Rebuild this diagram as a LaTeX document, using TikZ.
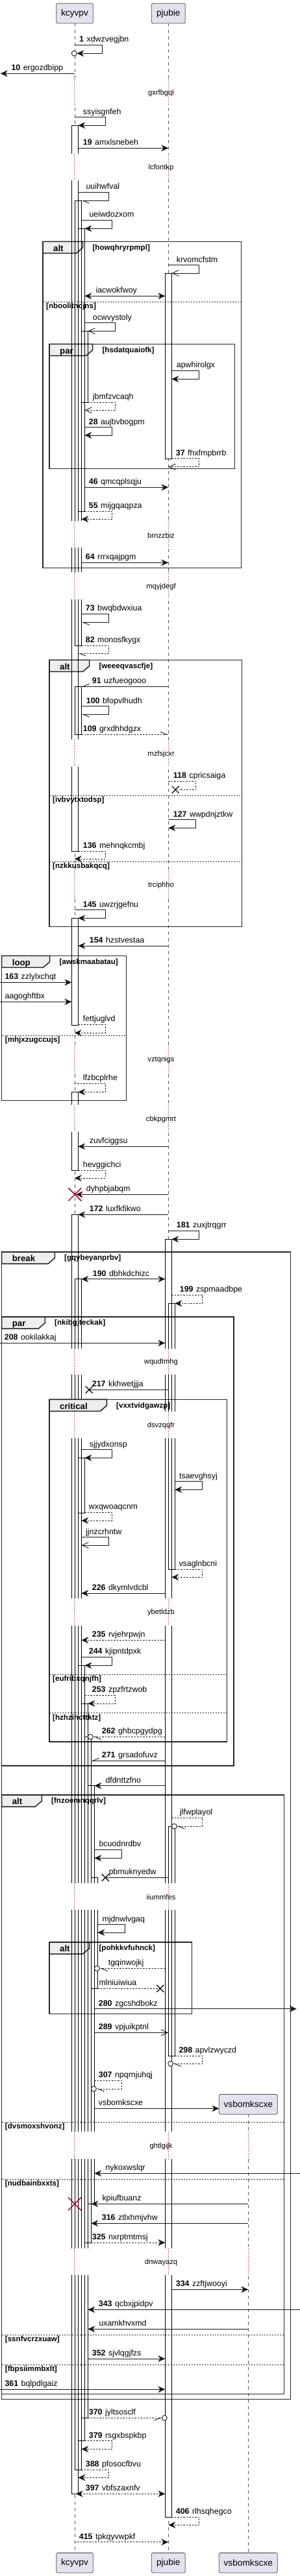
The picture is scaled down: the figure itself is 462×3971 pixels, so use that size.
\documentclass[tikz,border=0pt]{standalone}
\usepackage{fontspec}
\setmainfont{Liberation Sans}
\usetikzlibrary{arrows.meta}

\definecolor{partfill}{HTML}{E2E2F0}
\definecolor{tabfill}{HTML}{EEEEEE}
\definecolor{delayred}{HTML}{A80036}

\tikzset{
  part/.style={draw=black!70, fill=partfill, rounded corners=2.5pt, line width=0.8pt,
    minimum height=30.7pt, inner sep=0pt, font=\fontsize{13.7}{16}\selectfont},
  lifeline/.style={draw=black!65, line width=0.6pt, dash pattern=on 5pt off 5pt},
  actline/.style={draw=black, line width=0.9pt},
  msg/.style={draw=black!90, line width=0.9pt},
  rmsg/.style={msg, dash pattern=on 2.5pt off 2pt},
  fhead/.style={-{Stealth[length=11pt,width=10pt,inset=3.5pt]}},
  bhead/.style={{Stealth[length=11pt,width=10pt,inset=3.5pt]}-{Stealth[length=11pt,width=10pt,inset=3.5pt]}},
  ohead/.style={-{Straight Barb[length=10pt,width=9pt]}},
  halfl/.style={-{Straight Barb[length=10pt,width=8pt,left]}},
  halfr/.style={-{Straight Barb[length=10pt,width=8pt,right]}},
  msgtxt/.style={inner sep=0pt, anchor=base west, font=\fontsize{12.4}{14}\selectfont},
  fragline/.style={draw=black!85, line width=1.5pt},
  sepline/.style={draw=black!85, line width=0.9pt, dash pattern=on 2pt off 2pt},
  kindtxt/.style={inner sep=0pt, anchor=base west, font=\bfseries\fontsize{13.2}{15}\selectfont},
  guardtxt/.style={inner sep=0pt, anchor=base west, font=\bfseries\fontsize{11.6}{13}\selectfont},
  delayline/.style={draw=delayred, line width=0.8pt, dash pattern=on 1pt off 2pt},
  delaytxt/.style={inner sep=0pt, font=\fontsize{11.2}{13}\selectfont},
  endcirc/.style={draw=black!90, line width=0.9pt, fill=white},
  lostx/.style={draw=black!90, line width=1.4pt},
  killx/.style={draw=delayred, line width=1.5pt},
}

% message label, number
\newcommand{\seqno}[1]{\textbf{#1}\hspace{4.5pt}}
\newcommand{\lbl}[4]{\node[msgtxt] (#1) at (#2,{#3-4.5}) {#4};}
% fragment tab, box, separator
\newcommand{\fragtab}[5]{%
  \filldraw[fragline, fill=tabfill] (#1,#2) -- (#3,#2) -- (#3,{#2+9.3}) -- ({#3-10},{#2+18}) -- (#1,{#2+18}) -- cycle;
  \node[kindtxt] (#5) at ({#1+16},{#2+14.8}) {#4};}
\newcommand{\fragbox}[8]{%
  \draw[fragline] (#1,#2) rectangle (#3,#4);
  \fragtab{#1}{#2}{#5}{#6}{#8k}
  \node[guardtxt] (#8g) at ({#5+14.7},{#2+12.8}) {#7};}
\newcommand{\fragsep}[5]{%
  \draw[sepline] (#1,#3) -- (#2,#3);
  \node[guardtxt] (#5) at ({#1+5},{#3+10.5}) {#4};}
% delay: y1 y2 texty text name
\newcommand{\delaycut}[5]{%
  \fill[white] (105,#1) rectangle (156,#2);
  \fill[white] (250,#1) rectangle (275,#2);
  \draw[delayline] (114.7,#1) -- (114.7,#2);
  \draw[delayline] (259.3,#1) -- (259.3,#2);
  \node[delaytxt] (#5) at (248,#3) {#4};}
\newcommand{\lostmark}[2]{\draw[lostx] ({#1-5.5},{#2-5.5}) -- ({#1+5.5},{#2+5.5}) ({#1-5.5},{#2+5.5}) -- ({#1+5.5},{#2-5.5});}
\newcommand{\destroyx}[2]{\draw[killx] ({#1-10},{#2-10}) -- ({#1+10},{#2+10}) ({#1-10},{#2+10}) -- ({#1+10},{#2-10});}

% activation bars: left x / top / bottom
\def\barlist{110.3/193.3/1312.3, 110.3/1415.3/1580, 110.3/1683.3/1804.3, 110.3/1872.3/3844.3,
  115.3/309.3/995, 115.3/1058.3/1132.3, 115.3/1971.7/3807,
  120.3/352.3/788, 120.3/2247.3/2332.3, 120.3/2567.3/3762.7,
  125.3/510.3/620, 125.3/2626/3727.3,
  130.3/2677.3/3457, 135.3/2752.7/3397.3, 140.3/2894.3/3065,
  254.3/421/707.3, 254.3/1910.3/3880, 259.3/2009.3/2419, 259.3/2815.3/3169.3}

\begin{document}
\begin{tikzpicture}[x=1pt,y=-1pt]
\useasboundingbox (0,0) rectangle (462,3971);

% participants and lifelines
\node[part, minimum width=56.6pt] (kcT) at (115,20.65) {kcyvpv};
\node[part, minimum width=52pt] (pjT) at (259.3,20.65) {pjubie};
\node[part, minimum width=56.6pt] (kcB) at (115,3950.65) {kcyvpv};
\node[part, minimum width=52pt] (pjB) at (259.3,3950.65) {pjubie};
\node[part, minimum width=90pt] (vsB) at (382.3,3950.65) {vsbomkscxe};
\draw[lifeline] (kcT) -- (kcB);
\draw[lifeline] (pjT) -- (pjB);
\draw[lifeline] (382.3,3259.3) -- (vsB);

% activations (fill)
\foreach \bx/\ya/\yb in \barlist {\fill[white] (\bx,\ya) rectangle ({\bx+10},\yb);}

% fragments
\fragbox{66}{372.3}{371.7}{875.3}{127.7}{alt}{[howqhryrpmpl]}{fa}
\fragsep{66}{371.7}{465.3}{[nboolitncjns]}{fa1}
\fragbox{76}{530.3}{361.7}{722.3}{142.7}{par}{[hsdatquaiofk]}{fb}
\fragbox{76}{1017.3}{372.7}{1428.3}{137.7}{alt}{[weeeqvascfje]}{fc}
\fragsep{76}{372.7}{1226.3}{[ivbvytxtodsp]}{fc1}
\fragsep{76}{372.7}{1328.3}{[nzkkusbakqcq]}{fc2}
\fragbox{2.7}{1473.3}{194.7}{1696.7}{76.7}{loop}{[awskmaabatau]}{fd}
\fragsep{2.7}{194.7}{1596.3}{[mhjxzugccujs]}{fd1}
\fragbox{2.7}{1930}{447.7}{3698.3}{84.3}{break}{[gqybeyanprbv]}{fe}
\fragbox{2.7}{2030}{360}{2722}{69.3}{par}{[nkibgjteckak]}{ff}
\fragbox{76}{2157.3}{349.3}{2685}{164.3}{critical}{[vxxtvidgawzp]}{fg}
\fragsep{76}{349.3}{2581}{[eufribxqnjfh]}{fg1}
\fragsep{76}{349.3}{2640.7}{[hzhzihcttktz]}{fg2}
\fragbox{2.7}{2767}{437.7}{3690.7}{64.3}{alt}{[fnzoemnqqrlv]}{fh}
\fragsep{2.7}{437.7}{3271.3}{[dvsmoxshvonz]}{fh1}
\fragsep{2.7}{437.7}{3359.3}{[nudbainbxxts]}{fh2}
\fragsep{2.7}{437.7}{3599.3}{[ssnfvcrzxuaw]}{fh3}
\fragsep{2.7}{437.7}{3645}{[fbpsiimmbxlt]}{fh4}
\fragbox{76}{2994}{295.7}{3104.7}{137.7}{alt}{[pohkkvfuhnck]}{fi}

% activations (outline)
\foreach \bx/\ya/\yb in \barlist {\draw[actline] (\bx,\ya) rectangle ({\bx+10},\yb);}

% delays
\delaycut{122}{164}{143.3}{gxrfbgql}{d1}
\delaycut{236.7}{278.3}{258.3}{lcfontkp}{d2}
\delaycut{803.3}{844}{825}{brnzzbiz}{d3}
\delaycut{882.3}{924}{904.3}{mqyjdegf}{d4}
\delaycut{1140}{1182}{1162.3}{mzfsjcxr}{d5}
\delaycut{1343}{1386}{1365}{trciphho}{d6}
\delaycut{1612}{1655}{1633.3}{vztqnigs}{d7}
\delaycut{1703.3}{1745}{1725.3}{cbkpgmrt}{d8}
\delaycut{2078.7}{2119.3}{2100}{wqudtmhg}{d9}
\fill[white] (105,2158) rectangle (156,2176);
\delaycut{2176}{2217.3}{2197.3}{dsvzqqfr}{d10}
\fragtab{76}{2157.3}{164.3}{critical}{fgk2}
\delaycut{2464.3}{2506}{2486}{ybetldzb}{d11}
\delaycut{2902.7}{2944}{2924}{iiummfes}{d12}
\delaycut{3286}{3328.3}{3308.3}{ghtlgijk}{d13}
\fill[white] (378,3286) rectangle (387,3328.3);
\draw[delayline] (382.3,3286) -- (382.3,3328.3);
\delaycut{3465.7}{3506.7}{3487.3}{dnwayazq}{d14}
\fill[white] (378,3465.7) rectangle (387,3506.7);
\draw[delayline] (382.3,3465.7) -- (382.3,3506.7);

% created participant
\node[part, minimum width=90pt] (vsT) at (382.3,3243.8) {vsbomkscxe};

% messages
\draw[msg,fhead] (114.7,69.3) -| (157.3,82.3) -- (118.3,82.3);
\draw[endcirc] (114.3,82.3) circle (4);
\lbl{t1}{122}{69.3}{\seqno{1}xdwzvegjbn}
\draw[msg,fhead] (114.7,113.3) -- (0.7,113.3);
\lbl{t10}{17.3}{113.3}{\seqno{10}ergozdbipp}
\draw[msg,fhead] (114.7,180.7) -| (162.3,193.3) -- (120.3,193.3);
\lbl{tssy}{127.7}{180.7}{ssyisgnfeh}
\draw[msg,fhead] (120.3,228.3) -- (259.3,228.3);
\lbl{t19}{127.7}{228.3}{\seqno{19}amxlsnebeh}
\draw[msg,halfl] (120.3,296) -| (167.3,309.3) -- (125.3,309.3);
\lbl{tuui}{132.3}{296}{uuihwfval}
\draw[msg,fhead] (125.3,339.3) -| (172.3,352.3) -- (130.3,352.3);
\lbl{tuei}{137.3}{339.3}{ueiwdozxom}
\draw[msg,ohead] (259.3,408.7) -| (306.3,421) -- (264.3,421);
\lbl{tkrv}{271.7}{408.7}{krvomcfstm}
\draw[msg,bhead] (130.3,456.3) -- (254.3,456.3);
\lbl{tiac}{147.3}{456.3}{iacwokfwoy}
\draw[msg,ohead] (130.3,497.7) -| (177.3,510.3) -- (135.3,510.3);
\lbl{tocw}{142.7}{497.7}{ocwvystoly}
\draw[msg,fhead] (264.3,571.3) -| (306.3,584.3) -- (264.3,584.3);
\lbl{tapw}{271.7}{571.3}{apwhirolgx}
\draw[rmsg,ohead] (135.3,620) -| (177.3,632.3) -- (130.3,632.3);
\lbl{tjbm}{142.7}{620}{jbmfzvcaqh}
\draw[msg,fhead] (130.3,658.7) -| (172.3,671) -- (130.3,671);
\lbl{t28}{136.7}{658.7}{\seqno{28}aujbvbogpm}
\draw[rmsg,ohead] (264.3,706.7) -| (306.3,719.7) -- (259.3,719.7);
\lbl{t37}{270.7}{706.7}{\seqno{37}fhxfmpbrrb}
\draw[msg,fhead] (130.3,751.3) -- (259.3,751.3);
\lbl{t46}{136.7}{751.3}{\seqno{46}qmcqplsqju}
\draw[rmsg,fhead] (130.3,788) -| (172.3,800.3) -- (125.3,800.3);
\lbl{t55}{136.7}{788}{\seqno{55}mijgqaqpza}
\draw[msg,fhead] (125.3,867.3) -- (259.3,867.3);
\lbl{t64}{131.7}{867.3}{\seqno{64}rrrxqajpgm}
\draw[msg,halfl] (125.3,946.3) -| (167.3,959.3) -- (125.3,959.3);
\lbl{t73}{131.7}{946.3}{\seqno{73}bwqbdwxiua}
\draw[rmsg,halfl] (125.3,995) -| (167.3,1007.3) -- (120.3,1007.3);
\lbl{t82}{131.7}{995}{\seqno{82}monosfkygx}
\draw[msg,halfr] (259.3,1058.3) -- (125.3,1058.3);
\lbl{t91}{141.7}{1058.3}{\seqno{91}uzfueogooo}
\draw[msg,halfl] (125.3,1088.7) -| (167.3,1101.3) -- (125.3,1101.3);
\lbl{t100}{132.7}{1088.7}{\seqno{100}bfopvlhudh}
\draw[rmsg,halfl] (125.3,1132.3) -- (259.3,1132.3);
\lbl{t109}{127.7}{1132.3}{\seqno{109}grxdhhdgzx}
\draw[rmsg] (259.3,1204.3) -| (301.7,1217.3) -- (276,1217.3);
\lostmark{270.3}{1217.3}
\lbl{t118}{266.7}{1204.3}{\seqno{118}cpricsaiga}
\draw[msg,fhead] (259.3,1263.7) -| (301.7,1276.3) -- (259.3,1276.3);
\lbl{t127}{266.7}{1263.7}{\seqno{127}wwpdnjztkw}
\draw[rmsg,fhead] (120.3,1312.3) -| (162.3,1324) -- (114.7,1324);
\lbl{t136}{127.7}{1312.3}{\seqno{136}mehnqkcmbj}
\draw[msg,fhead] (114.7,1402.7) -| (162.3,1415.3) -- (120.3,1415.3);
\lbl{t145}{127.7}{1402.7}{\seqno{145}uwzrjgefnu}
\draw[msg,fhead] (259.3,1458) -- (120.3,1458);
\lbl{t154}{137.7}{1458}{\seqno{154}hzstvestaa}
\draw[msg,fhead] (0,1514.3) -- (110.3,1514.3);
\lbl{t163}{7.3}{1514.3}{\seqno{163}zzlylxchqt}
\draw[msg,fhead] (0,1544.3) -- (110.3,1544.3);
\lbl{taag}{7.3}{1544.3}{aagoghftbx}
\draw[rmsg,fhead] (120.3,1579.3) -| (162.3,1592.3) -- (114.7,1592.3);
\lbl{tfet}{127.7}{1579.3}{fettjuglvd}
\draw[rmsg,fhead] (114.7,1670.3) -| (162.3,1683.3) -- (120.3,1683.3);
\lbl{tlfz}{127.7}{1670.3}{lfzbcplrhe}
\draw[msg,fhead] (259.3,1767.3) -- (120.3,1767.3);
\lbl{tzuv}{137.7}{1767.3}{zuvfciggsu}
\draw[rmsg,fhead] (120.3,1804.3) -| (162.3,1816) -- (114.7,1816);
\lbl{thev}{127.7}{1804.3}{hevggichci}
\destroyx{115.3}{1841.3}
\draw[msg,fhead] (259.3,1841.3) -- (116.7,1841.3);
\lbl{tdyh}{132.7}{1841.3}{dyhpbjabqm}
\draw[msg,fhead] (259.3,1872.3) -- (120.3,1872.3);
\lbl{t172}{137.7}{1872.3}{\seqno{172}luxfkfikwo}
\draw[msg,fhead] (259.3,1897.3) -| (306.3,1910.3) -- (264.3,1910.3);
\lbl{t181}{271.7}{1897.3}{\seqno{181}zuxjtrqgrr}
\draw[msg,bhead] (125.3,1971.7) -- (254.3,1971.7);
\lbl{t190}{142.7}{1971.7}{\seqno{190}dbhkdchizc}
\draw[rmsg,fhead] (264.3,1996) -| (311.7,2009.3) -- (269.3,2009.3);
\lbl{t199}{276.7}{1996}{\seqno{199}zspmaadbpe}
\draw[msg,fhead] (0,2070.3) -- (254.3,2070.3);
\lbl{t208}{6.7}{2070.3}{\seqno{208}ookilakkaj}
\draw[msg] (259.3,2142.3) -- (137.3,2142.3);
\lostmark{137.3}{2142.3}
\lbl{t217}{141.7}{2142.3}{\seqno{217}kkhwetjjja}
\draw[msg,fhead] (125.3,2234.7) -| (172.3,2247.3) -- (130.3,2247.3);
\lbl{tsjj}{137.7}{2234.7}{sjjydxonsp}
\draw[msg,fhead] (269.3,2283.7) -| (311.7,2296.3) -- (269.3,2296.3);
\lbl{ttsa}{276}{2283.7}{tsaevghsyj}
\draw[rmsg,fhead] (130.3,2331.3) -| (172.3,2344) -- (125.3,2344);
\lbl{twxq}{136.7}{2331.3}{wxqwoaqcnm}
\draw[msg,ohead] (125.3,2369.7) -| (167.3,2382) -- (125.3,2382);
\lbl{tjjn}{132}{2369.7}{jjnzcrhntw}
\draw[rmsg,fhead] (269.3,2419) -| (311.7,2431.3) -- (264.3,2431.3);
\lbl{tvsa}{275.3}{2419}{vsaglnbcni}
\draw[msg,fhead] (254.3,2456) -- (125.3,2456);
\lbl{t226}{141.7}{2456}{\seqno{226}dkymlvdcbl}
\draw[rmsg,fhead] (254.3,2528.3) -- (125.3,2528.3);
\lbl{t235}{141.7}{2528.3}{\seqno{235}rvjehrpwjn}
\draw[msg,fhead] (125.3,2554.3) -| (172.3,2567.3) -- (130.3,2567.3);
\lbl{t244}{136.7}{2554.3}{\seqno{244}kjipntdpxk}
\draw[rmsg,fhead] (130.3,2613.3) -| (177.3,2626) -- (135.3,2626);
\lbl{t253}{141.7}{2613.3}{\seqno{253}zpzfrtzwob}
\draw[rmsg,halfl] (254.3,2677.3) -- (143.3,2677.3);
\draw[endcirc] (139.3,2677.3) circle (4);
\lbl{t262}{156.7}{2677.3}{\seqno{262}ghbcpgydpg}
\draw[msg,halfr] (254.3,2714.3) -- (140.3,2714.3);
\lbl{t271}{156.7}{2714.3}{\seqno{271}grsadofuvz}
\draw[msg,fhead] (254.3,2752.7) -- (145.3,2752.7);
\lbl{tdfd}{162.3}{2752.7}{dfdnttzfno}
\draw[rmsg,halfl] (264.3,2802.3) -| (311.7,2815.3) -- (272.3,2815.3);
\draw[endcirc] (268.3,2815.3) circle (4);
\lbl{tjlf}{276.7}{2802.3}{jlfwplayol}
\draw[msg,fhead] (145.3,2851.3) -| (187.3,2864.3) -- (145.3,2864.3);
\lbl{tbcu}{152.3}{2851.3}{bcuodnrdbv}
\draw[msg] (259.3,2894.3) -- (162.3,2894.3);
\lostmark{162.3}{2894.3}
\lbl{tpbm}{167.3}{2894.3}{pbmuknyedw}
\draw[msg,fhead] (150.3,2966.7) -| (192.3,2979) -- (150.3,2979);
\lbl{tmjd}{157.3}{2966.7}{mjdnwlvgaq}
\draw[rmsg,halfl] (254.3,3034.3) -- (153.3,3034.3);
\draw[endcirc] (149.3,3034.3) circle (4);
\lbl{ttgq}{166.7}{3034.3}{tgqinwojkj}
\draw[rmsg] (150.3,3065.3) -- (246.7,3065.3);
\lostmark{246.7}{3065.3}
\lbl{tmln}{152.3}{3065.3}{mlniuiwiua}
\draw[msg,fhead] (145.3,3096.7) -- (456.7,3096.7);
\lbl{t280}{151.7}{3096.7}{\seqno{280}zgcshdbokz}
\draw[msg,ohead] (145.3,3133.3) -- (259.3,3133.3);
\lbl{t289}{151.7}{3133.3}{\seqno{289}vpjuikptnl}
\draw[rmsg,halfl] (269.3,3169.3) -| (311.7,3181.3) -- (266.7,3181.3);
\draw[endcirc] (262.7,3181.3) circle (4);
\lbl{t298}{275.3}{3169.3}{\seqno{298}apvlzwyczd}
\draw[rmsg,halfl] (145.3,3207.3) -| (187.3,3220) -- (148.3,3220);
\draw[endcirc] (144.3,3220) circle (4);
\lbl{t307}{151.7}{3207.3}{\seqno{307}npqrnjuhqj}
\draw[msg,fhead] (145.3,3250.3) -- (337.3,3250.3);
\lbl{tvsb}{151.7}{3250.3}{vsbomkscxe}
\draw[msg,fhead] (462,3350.3) -- (145.3,3350.3);
\lbl{tnyk}{162.3}{3350.3}{nykoxwslqr}
\destroyx{115}{3397.3}
\draw[msg,fhead] (382.3,3397.3) -- (140.3,3397.3);
\lbl{tkpi}{157.3}{3397.3}{kpiufbuanz}
\draw[msg,fhead] (382.3,3427.3) -- (140.3,3427.3);
\lbl{t316}{156.7}{3427.3}{\seqno{316}ztlxhmjvhw}
\draw[rmsg,fhead] (140.3,3457) -- (254.3,3457);
\lbl{t325}{141.7}{3457}{\seqno{325}nxrptmtmsj}
\draw[msg,fhead] (264.3,3529.3) -- (382.3,3529.3);
\lbl{t334}{270.7}{3529.3}{\seqno{334}zzftjwooyi}
\draw[msg,fhead] (462,3560.3) -- (135.3,3560.3);
\lbl{t343}{151.7}{3560.3}{\seqno{343}qcbxjpidpv}
\draw[msg,fhead] (382.3,3590.3) -- (135.3,3590.3);
\lbl{tuxa}{152.3}{3590.3}{uxamkhvxmd}
\draw[msg,fhead] (135.3,3636) -- (254.3,3636);
\lbl{t352}{141.7}{3636}{\seqno{352}sjvlqgjfzs}
\draw[msg,fhead] (0,3683.3) -- (254.3,3683.3);
\lbl{t361}{7.3}{3683.3}{\seqno{361}bqlpdlgaiz}
\draw[rmsg,halfr] (135.3,3727.3) -- (249.3,3727.3);
\draw[endcirc] (253.3,3727.3) circle (4);
\lbl{t370}{136.7}{3727.3}{\seqno{370}jyltsosclf}
\draw[rmsg,fhead] (130.3,3762.7) -| (172.3,3775.3) -- (125.3,3775.3);
\lbl{t379}{136.7}{3762.7}{\seqno{379}rsgxbspkbp}
\draw[rmsg,fhead] (125.3,3807) -| (167.3,3819.3) -- (120.3,3819.3);
\lbl{t388}{131.7}{3807}{\seqno{388}pfosocfbvu}
\draw[rmsg,bhead] (116.7,3844.3) -- (254.3,3844.3);
\lbl{t397}{131.7}{3844.3}{\seqno{397}vbfszaxnfv}
\draw[rmsg,fhead] (264.3,3880) -| (306.7,3892.3) -- (259.3,3892.3);
\lbl{t406}{270.7}{3880}{\seqno{406}rlhsqhegco}
\draw[rmsg,fhead] (114.7,3918.7) -- (259.3,3918.7);
\lbl{t415}{121.7}{3918.7}{\seqno{415}tpkqyvwpkf}

\end{tikzpicture}
\end{document}
